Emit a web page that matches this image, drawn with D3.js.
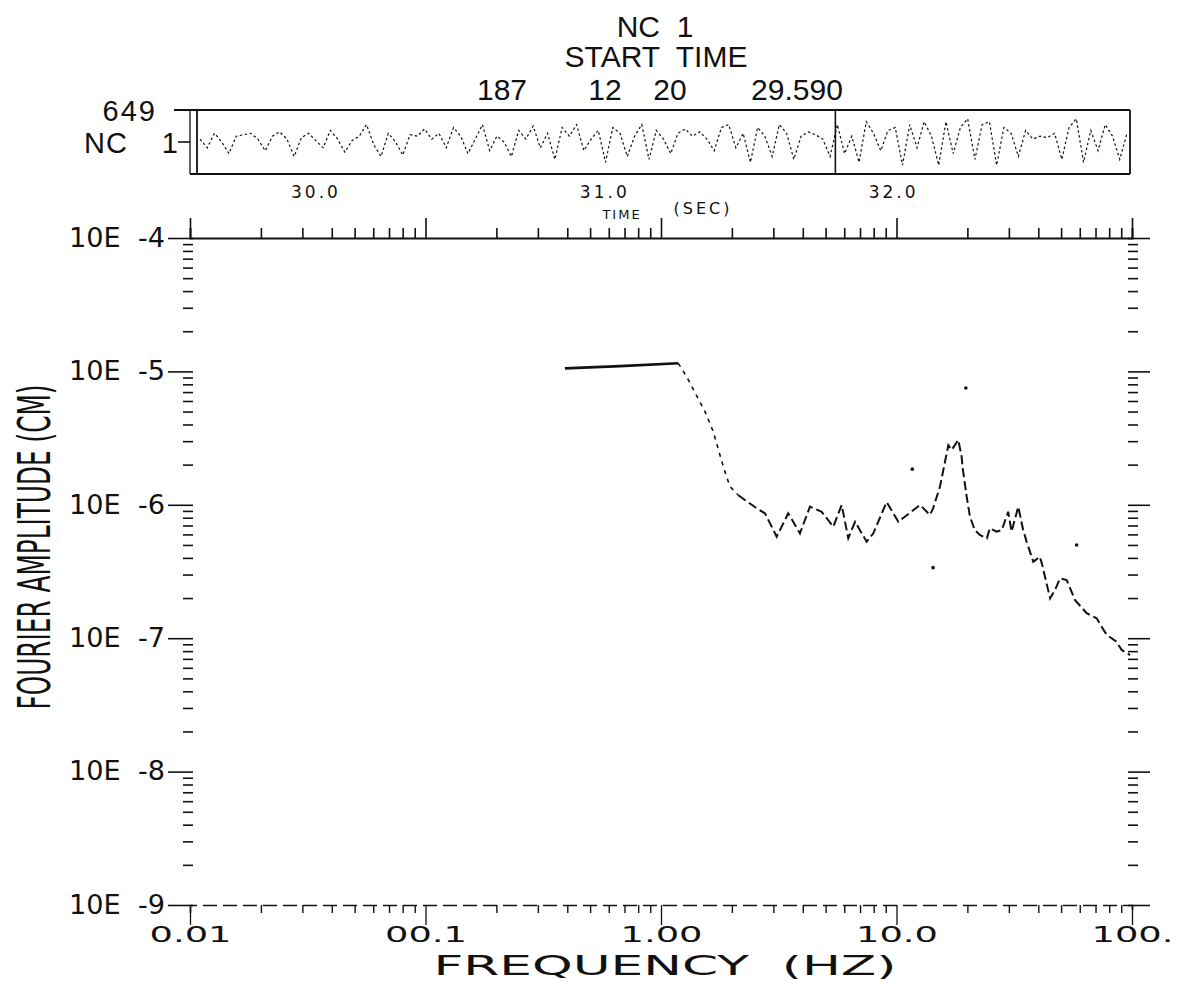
<!DOCTYPE html>
<html><head><meta charset="utf-8">
<script src="https://cdn.jsdelivr.net/npm/d3@7"></script>
<style>html,body{margin:0;padding:0;background:#fff;} svg{display:block;} text{white-space:pre;}</style>
</head><body>
<svg id="chart" width="1178" height="982"></svg>
<script>
// ---------------- data ----------------
const titleLines = ["NC  1", "START  TIME"];
const startTimeParts = ["187", "12", "20", "29.590"];
const startTimeCentres = [502, 605, 670, 797];
const channelLabels = ["649", "NC", "1"];

// time-history trace (normalised amplitude, one value per sample)
const traceValues = [
  0.1, -0.2, 0.3, 0.0, -0.4, 0.2, 0.25, 0.3, 0.1, -0.3, 0.2, 0.35, 0.1, -0.5, 0.15, 0.3,
  0.05, -0.2, 0.4, 0.1, -0.35, 0.05, 0.2, 0.6, -0.1, -0.5, 0.3, 0.0, -0.45, 0.25, 0.2, 0.45,
  0.1, 0.3, -0.2, 0.5, 0.2, -0.4, 0.1, 0.6, -0.3, 0.2, 0.0, -0.5, 0.4, 0.1, 0.55, -0.2,
  0.3, -0.6, 0.5, 0.2, 0.6, -0.3, 0.1, 0.4, -0.7, 0.5, 0.3, -0.5, 0.2, 0.6, -0.6, 0.4,
  0.1, -0.4, 0.3, 0.45, 0.2, 0.35, 0.1, -0.3, 0.5, 0.6, -0.2, 0.3, -0.7, 0.5, 0.2, -0.5,
  0.6, 0.3, -0.6, 0.2, 0.35, 0.25, 0.1, -0.5,
  0.6, -0.4, 0.2, -0.7, 0.7, 0.3, -0.3, 0.4, 0.5, -0.8, 0.6, -0.2, 0.7, 0.2, -0.8, 0.7,
  -0.4, 0.5, 0.8, -0.6, 0.6, 0.7, -0.8, 0.5, 0.3, -0.5, 0.4, 0.1, 0.2, 0.15, 0.3, -0.6,
  0.5, 0.8, -0.7, 0.4, -0.3, 0.6, 0.2, -0.6, 0.3
];
const timeWindow = [29.59, 32.82];
const timeDivider = 31.8;
const timeTickValues = [30, 31, 32];
const timeTickLabels = ["30.0", "31.0", "32.0"];
const timeTitle = ["TIME", "(SEC)"];

// Fourier amplitude spectrum
const freqHz = [0.391, 0.67, 1.184, 1.285, 1.538, 1.667, 1.839, 1.963, 2.13, 2.55, 2.765, 3.10,
  3.47, 3.89, 4.29, 4.81, 5.39, 5.85, 6.24, 6.67, 7.47, 7.97, 9.08, 10.18, 12.58, 13.87, 14.3,
  15.3, 16.6, 17.15, 18.3, 18.9, 19.1, 19.86, 20.5, 21.5, 22.6, 24.2, 24.9, 26.6, 28.0, 29.8,
  30.8, 32.9, 34.5, 35.7, 38.1, 40.6, 41.4, 44.9, 47.1, 49.5, 52.8, 57.3, 64.2, 70.8, 74.3,
  78.1, 86.1, 90.4, 98.1];
const ampCm = [1.054e-5, 1.096e-5, 1.15e-5, 9.12e-6, 4.99e-6, 3.53e-6, 1.93e-6, 1.37e-6, 1.18e-6,
  9.4e-7, 8.63e-7, 5.77e-7, 8.63e-7, 6.11e-7, 9.68e-7, 8.87e-7, 6.85e-7, 9.97e-7, 5.61e-7, 7.46e-7,
  5.28e-7, 6.11e-7, 1.05e-6, 7.46e-7, 9.97e-7, 8.4e-7, 9.4e-7, 1.37e-6, 2.8e-6, 2.58e-6, 3.06e-6,
  2.3e-6, 1.88e-6, 1.15e-6, 8.15e-7, 6.47e-7, 5.94e-7, 5.61e-7, 6.67e-7, 6.28e-7, 6.47e-7, 8.87e-7,
  6.3e-7, 9.68e-7, 6.47e-7, 5.28e-7, 3.74e-7, 4.08e-7, 3.64e-7, 1.99e-7, 2.3e-7, 2.81e-7, 2.73e-7,
  1.93e-7, 1.54e-7, 1.41e-7, 1.22e-7, 1.06e-7, 9.4e-8, 8.16e-8, 7.48e-8];
const strayFreqHz = [19.7, 11.67, 14.3, 58.2];
const strayAmpCm = [7.5e-6, 1.85e-6, 3.38e-7, 5.0e-7];

const yDecades = [1e-4, 1e-5, 1e-6, 1e-7, 1e-8, 1e-9];
const yDecadeLabels = ["10E  -4", "10E  -5", "10E  -6", "10E  -7", "10E  -8", "10E  -9"];
const xDecades = [0.01, 0.1, 1, 10, 100];
const xDecadeLabels = ["0.01", "00.1", "1.00", "10.0", "100."];
const xTitle = "FREQUENCY  (HZ)";
const yTitle = "FOURIER AMPLITUDE (CM)";

// ---------------- drawing ----------------
const svg = d3.select("#chart");
const ink = "#111";
const narrow = "'Liberation Sans Narrow','DejaVu Sans Condensed','Liberation Sans',Arial,sans-serif";
const plain = "'Liberation Sans',Arial,sans-serif";
const wide = "'DejaVu Sans','Verdana',sans-serif";

const x = d3.scaleLog().domain([0.01, 100]).range([190, 1132]);
const y = d3.scaleLog().domain([1e-4, 1e-9]).range([238, 905]);

function minorsOf(domainLo, domainHi) {
  const out = [];
  let d = domainLo;
  while (d < domainHi * 0.999) {
    for (let k = 2; k <= 9; k++) out.push(d * k);
    d *= 10;
  }
  return out;
}
const xMinors = minorsOf(0.01, 100);
const yMinors = minorsOf(1e-9, 1e-4);

function clean(g) {
  g.select(".domain").remove();
  g.selectAll("line").attr("stroke", ink).attr("stroke-width", 1.6);
}

// ---- title ----
svg.append("text").attr("x", 655).attr("y", 37).attr("text-anchor", "middle")
  .attr("font-family", plain).attr("font-size", 30).attr("fill", ink).text(titleLines[0]);
svg.append("text").attr("x", 656).attr("y", 67).attr("text-anchor", "middle")
  .attr("font-family", plain).attr("font-size", 30).attr("fill", ink).text(titleLines[1]);
svg.selectAll("text.st").data(startTimeParts).enter().append("text").attr("class", "st")
  .attr("x", (d, i) => startTimeCentres[i]).attr("y", 100).attr("text-anchor", "middle")
  .attr("font-family", plain).attr("font-size", 30).attr("fill", ink).text(d => d);

// ---- time-history box ----
const boxL = 197, boxR = 1130, boxT = 110, boxB = 174;
const t = d3.scaleLinear().domain(timeWindow).range([boxL, boxR]);
const sIdx = d3.scaleLinear().domain([0, traceValues.length - 1]).range([boxL + 3, boxR - 3]);
const v = d3.scaleLinear().domain([-1, 1]).range([boxB - 3, boxT + 3]);

const box = svg.append("g");
box.append("line").attr("x1", 174).attr("x2", boxR).attr("y1", boxT).attr("y2", boxT)
  .attr("stroke", ink).attr("stroke-width", 2.2);
box.append("line").attr("x1", 190).attr("x2", boxR).attr("y1", boxB).attr("y2", boxB)
  .attr("stroke", ink).attr("stroke-width", 2.2);
box.append("line").attr("x1", 190).attr("x2", 190).attr("y1", boxT).attr("y2", boxB)
  .attr("stroke", ink).attr("stroke-width", 1.3);
box.append("line").attr("x1", boxL).attr("x2", boxL).attr("y1", boxT).attr("y2", boxB)
  .attr("stroke", ink).attr("stroke-width", 1.8);
box.append("line").attr("x1", boxR).attr("x2", boxR).attr("y1", boxT).attr("y2", boxB)
  .attr("stroke", ink).attr("stroke-width", 1.8);
box.append("line").attr("x1", t(timeDivider)).attr("x2", t(timeDivider)).attr("y1", boxT).attr("y2", boxB)
  .attr("stroke", ink).attr("stroke-width", 1.6);
box.append("line").attr("x1", 178).attr("x2", 190).attr("y1", v(0)).attr("y2", v(0))
  .attr("stroke", ink).attr("stroke-width", 1.6);

box.append("path").datum(traceValues)
  .attr("d", d3.line().x((d, i) => sIdx(i)).y(d => v(d)))
  .attr("fill", "none").attr("stroke", ink).attr("stroke-width", 1.2)
  .attr("stroke-dasharray", "2.5 2.5");

svg.append("text").attr("x", 157).attr("y", 121).attr("text-anchor", "end")
  .attr("font-family", plain).attr("font-size", 29).attr("letter-spacing", 2).attr("fill", ink).text(channelLabels[0]);
svg.append("text").attr("x", 128).attr("y", 153).attr("text-anchor", "end")
  .attr("font-family", plain).attr("font-size", 29).attr("letter-spacing", 1).attr("fill", ink).text(channelLabels[1]);
svg.append("text").attr("x", 178).attr("y", 153).attr("text-anchor", "end")
  .attr("font-family", plain).attr("font-size", 29).attr("fill", ink).text(channelLabels[2]);

const tAxis = svg.append("g").attr("transform", `translate(0,${boxB})`)
  .call(d3.axisBottom(t).tickValues(timeTickValues).tickSize(0).tickPadding(12)
    .tickFormat((d, i) => timeTickLabels[i]));
tAxis.select(".domain").remove();
tAxis.selectAll("text").attr("font-family", wide).attr("font-size", 17)
  .attr("letter-spacing", 3).attr("fill", ink);
svg.append("text").attr("x", 622).attr("y", 219).attr("text-anchor", "middle")
  .attr("font-family", wide).attr("font-size", 13).attr("letter-spacing", 2).attr("fill", ink).text(timeTitle[0]);
svg.append("text").attr("x", 703).attr("y", 214).attr("text-anchor", "middle")
  .attr("font-family", wide).attr("font-size", 16).attr("letter-spacing", 3).attr("fill", ink).text(timeTitle[1]);

// ---- spectrum axes ----
// top
const topMinor = svg.append("g").attr("transform", "translate(0,238)")
  .call(d3.axisTop(x).tickValues(xMinors).tickSize(10).tickFormat(""));
topMinor.select(".domain").attr("stroke", ink).attr("stroke-width", 2);
topMinor.selectAll("line").attr("stroke", ink).attr("stroke-width", 1.6);
svg.append("g").attr("transform", "translate(0,238)")
  .call(d3.axisTop(x).tickValues(xDecades).tickSize(20).tickFormat("")).call(clean);

// bottom
const botMinor = svg.append("g").attr("transform", "translate(0,905)")
  .call(d3.axisBottom(x).tickValues(xMinors).tickSize(8).tickFormat(""));
botMinor.select(".domain").attr("stroke", ink).attr("stroke-width", 1.6)
  .attr("stroke-dasharray", "14 6");
botMinor.selectAll("line").attr("stroke", ink).attr("stroke-width", 1.4);
const botMajor = svg.append("g").attr("transform", "translate(0,905)")
  .call(d3.axisBottom(x).tickValues(xDecades).tickSize(20).tickPadding(2)
    .tickFormat((d, i) => xDecadeLabels[i]));
botMajor.select(".domain").remove();
botMajor.selectAll("line").attr("stroke", ink).attr("stroke-width", 1.3);
botMajor.selectAll("text").attr("font-family", wide).attr("font-size", 22)
  .attr("textLength", 82).attr("lengthAdjust", "spacingAndGlyphs").attr("fill", ink)
  .attr("dy", "0.7em");

// left
svg.append("g").attr("transform", "translate(183,0)")
  .call(d3.axisRight(y).tickValues(yMinors).tickSize(10).tickFormat("")).call(clean);
const leftMajor = svg.append("g").attr("transform", "translate(193,0)")
  .call(d3.axisLeft(y).tickValues(yDecades).tickSize(25).tickPadding(3)
    .tickFormat((d, i) => yDecadeLabels[i]));
leftMajor.call(clean);
leftMajor.selectAll("text").attr("font-family", narrow).attr("font-size", 26)
  .attr("textLength", 96).attr("lengthAdjust", "spacingAndGlyphs").attr("fill", ink);

// right
svg.append("g").attr("transform", "translate(1138,0)")
  .call(d3.axisLeft(y).tickValues(yMinors).tickSize(10).tickFormat("")).call(clean);
svg.append("g").attr("transform", "translate(1128,0)")
  .call(d3.axisRight(y).tickValues(yDecades).tickSize(22).tickFormat("")).call(clean);

// axis titles
svg.append("text").attr("transform", "translate(50,547) rotate(-90)").attr("text-anchor", "middle")
  .attr("font-family", narrow).attr("font-size", 44).attr("textLength", 325)
  .attr("lengthAdjust", "spacingAndGlyphs").attr("fill", ink).text(yTitle);
svg.append("text").attr("x", 665).attr("y", 975).attr("text-anchor", "middle")
  .attr("font-family", wide).attr("font-size", 26).attr("textLength", 463)
  .attr("lengthAdjust", "spacingAndGlyphs").attr("fill", ink).text(xTitle);

// ---- spectrum ----
const pts = freqHz.map((f, i) => [f, ampCm[i]]);
const line = d3.line().x(d => x(d[0])).y(d => y(d[1]));
svg.append("path").datum(pts.slice(0, 3)).attr("d", line)
  .attr("fill", "none").attr("stroke", ink).attr("stroke-width", 2.6);
svg.append("path").datum(pts.slice(2, 9)).attr("d", line)
  .attr("fill", "none").attr("stroke", ink).attr("stroke-width", 1.6)
  .attr("stroke-dasharray", "4 5");
svg.append("path").datum(pts.slice(8)).attr("d", line)
  .attr("fill", "none").attr("stroke", ink).attr("stroke-width", 2)
  .attr("stroke-dasharray", "9 4");
svg.selectAll("circle.stray").data(strayFreqHz).enter().append("circle").attr("class", "stray")
  .attr("cx", d => x(d)).attr("cy", (d, i) => y(strayAmpCm[i])).attr("r", 1.8).attr("fill", ink);
</script>
</body></html>
